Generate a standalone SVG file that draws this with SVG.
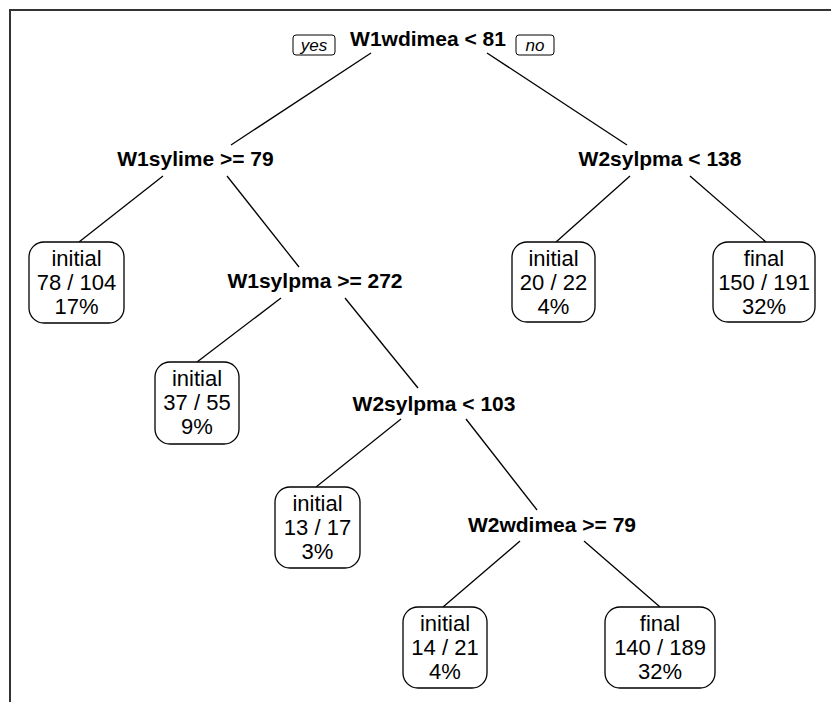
<svg xmlns="http://www.w3.org/2000/svg" width="831" height="702" viewBox="0 0 831 702">
<style>
.split{font-family:"Liberation Sans",Arial,sans-serif;font-size:21px;font-weight:bold;fill:#000;text-anchor:middle}
.leaf{font-family:"Liberation Sans",Arial,sans-serif;font-size:22px;fill:#000;text-anchor:middle}
.yn{font-family:"Liberation Sans",Arial,sans-serif;font-size:17px;font-style:italic;fill:#000;text-anchor:middle}
.box{fill:#fff;stroke:#000;stroke-width:1.3}
.tag{fill:#fff;stroke:#000;stroke-width:1}
.edge{stroke:#000;stroke-width:1.3;fill:none}
</style>
<rect width="831" height="702" fill="#fff"/>
<path d="M10,702 V10 H831" fill="none" stroke="#333" stroke-width="2"/>
<g id="connectors">
<line class="edge" x1="371" y1="53" x2="231" y2="145"/>
<line class="edge" x1="487" y1="53" x2="627" y2="145"/>
<line class="edge" x1="163" y1="176" x2="79" y2="242"/>
<line class="edge" x1="227" y1="176" x2="299" y2="267"/>
<line class="edge" x1="630" y1="176" x2="556" y2="242"/>
<line class="edge" x1="690" y1="176" x2="766" y2="242"/>
<line class="edge" x1="281" y1="298" x2="197" y2="362"/>
<line class="edge" x1="345" y1="298" x2="418" y2="388"/>
<line class="edge" x1="401" y1="419" x2="316" y2="487"/>
<line class="edge" x1="466" y1="419" x2="537" y2="510"/>
<line class="edge" x1="520" y1="541" x2="443" y2="607"/>
<line class="edge" x1="584" y1="541" x2="660" y2="607"/>
</g>
<g id="root">
<rect class="tag" x="293" y="35" width="42" height="20" rx="3"/>
<text class="yn" x="314" y="51">yes</text>
<text class="split" x="428" y="46">W1wdimea &lt; 81</text>
<rect class="tag" x="516" y="35" width="38" height="20" rx="3"/>
<text class="yn" x="535" y="51">no</text>
</g>
<g id="split_w1sylime"><text class="split" x="195.5" y="166">W1sylime &gt;= 79</text></g>
<g id="split_w2sylpma138"><text class="split" x="660" y="166">W2sylpma &lt; 138</text></g>
<g id="split_w1sylpma"><text class="split" x="315" y="288">W1sylpma &gt;= 272</text></g>
<g id="split_w2sylpma103"><text class="split" x="434" y="411">W2sylpma &lt; 103</text></g>
<g id="split_w2wdimea"><text class="split" x="552" y="532">W2wdimea &gt;= 79</text></g>
<g id="leaf1">
<rect class="box" x="29" y="242" width="95" height="81" rx="15"/>
<text class="leaf" x="76.5" y="266">initial</text><text class="leaf" x="76.5" y="290">78 / 104</text><text class="leaf" x="76.5" y="314">17%</text>
</g>
<g id="leaf2">
<rect class="box" x="155" y="362" width="84" height="82" rx="15"/>
<text class="leaf" x="197" y="386">initial</text><text class="leaf" x="197" y="410">37 / 55</text><text class="leaf" x="197" y="434">9%</text>
</g>
<g id="leaf3">
<rect class="box" x="275" y="487" width="85" height="81" rx="15"/>
<text class="leaf" x="317.5" y="511">initial</text><text class="leaf" x="317.5" y="535">13 / 17</text><text class="leaf" x="317.5" y="559">3%</text>
</g>
<g id="leaf4">
<rect class="box" x="403" y="607" width="84" height="81" rx="15"/>
<text class="leaf" x="445" y="631">initial</text><text class="leaf" x="445" y="655">14 / 21</text><text class="leaf" x="445" y="679">4%</text>
</g>
<g id="leaf5">
<rect class="box" x="605" y="607" width="110" height="81" rx="15"/>
<text class="leaf" x="660" y="631">final</text><text class="leaf" x="660" y="655">140 / 189</text><text class="leaf" x="660" y="679">32%</text>
</g>
<g id="leaf6">
<rect class="box" x="512" y="242" width="83" height="80" rx="15"/>
<text class="leaf" x="553.5" y="266">initial</text><text class="leaf" x="553.5" y="290">20 / 22</text><text class="leaf" x="553.5" y="314">4%</text>
</g>
<g id="leaf7">
<rect class="box" x="713" y="242" width="102" height="80" rx="15"/>
<text class="leaf" x="764" y="266">final</text><text class="leaf" x="764" y="290">150 / 191</text><text class="leaf" x="764" y="314">32%</text>
</g>
</svg>
